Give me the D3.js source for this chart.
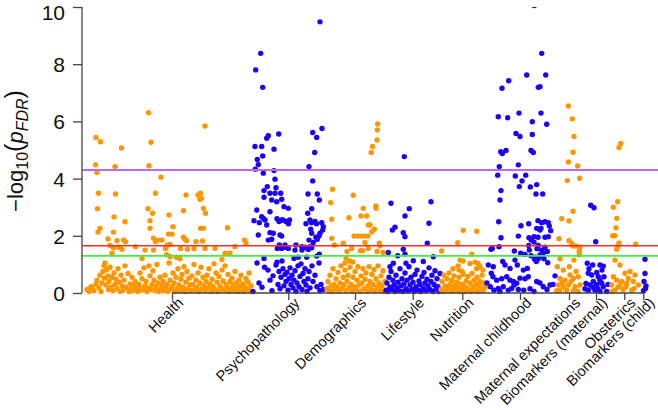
<!DOCTYPE html>
<html>
<head>
<meta charset="utf-8">
<script src="https://cdn.jsdelivr.net/npm/d3@7"></script>
<style>
  html, body { margin: 0; padding: 0; background: #fff; }
  svg { display: block; font-family: "Liberation Sans", Arial, sans-serif; }
</style>
</head>
<body>
<svg id="chart" width="658" height="410"></svg>
<script>
// ---------- DATA ----------
const categories = ["Health", "Psychopathology", "Demographics", "Lifestyle", "Nutrition",
  "Maternal childhood", "Maternal expectations", "Biomarkers (maternal)", "Obstetrics", "Biomarkers (child)"];
// tick position of each category on the variable-index axis
const categoryTicks = [90, 206.3, 273, 330.7, 380.3, 438, 487, 514, 542.3, 561.3];
const yTicks = [0, 2, 4, 6, 8, 10];
const thresholds = [4.30, 1.654, 1.301];

// [variable index, -log10(pFDR)]
const health = [
  [14,5.44],[18.5,5.29],[39.5,5.07],[66.5,6.30],[69,5.27],[123,5.84],
  [13.5,4.48],[33,4.42],[67,4.45],[15,4.21],[79,4.05],
  [16.5,3.49],[33.5,3.46],[73.5,3.49],[104,3.43],[116,3.43],[118.5,3.49],[119.5,3.31],[118,3.28],
  [15.5,2.95],[66,2.95],[101.5,2.88],[121.5,2.96],[70.5,2.79],[123.5,2.79],[87,2.73],[32,2.66],[68,2.53],[43,2.49],[91,2.32],
  [18,2.26],[68,2.26],[118.5,2.26],[121.5,2.26],[145.5,2.28],[16,2.13],[31.5,2.13],[86.5,2.06],[90,2.06],
  [26,1.89],[35,1.83],[41.5,1.85],[43.5,1.79],[28,1.66],[31.5,1.58],[36.5,1.60],[40,1.53],[53.5,1.62],[71.5,1.92],
  [73.5,1.80],[76,1.85],[80,1.85],[85,1.67],[71.5,1.50],[30,1.39],[83.5,1.56],
  [101.5,1.95],[103,1.88],[104.5,1.83],[114,1.79],[120.5,1.82],[162.5,1.85],[164,1.74],[98.5,1.56],[105.5,1.53],
  [112,1.55],[123,1.56],[133,1.56],[148,1.39],[94.5,1.25],[98,1.20],
  [88,1.70],[84.5,1.34],[88,1.27],[63,1.50],[153,1.62],[143,1.39],[60,1.21],[140,1.17],
  [5,0.12],[7,0.05],[9,0.22],[10,0.15],[12,0.08],[14,0.30],[15,0.45],[17,0.18],[18,0.62],[19,0.05],[20,0.35],
  [21,0.75],[22,0.95],[22.5,0.52],[23,1.05],[24,0.28],[25,0.82],[26,0.60],[26.5,0.12],[27,0.40],[28,0.90],[29,0.20],
  [30,0.55],[31,0.08],[32,0.70],[33,0.30],[34,0.48],[35,0.15],[36,0.85],[37,0.38],[38,0.05],[39,0.62],[40,0.25],
  [41,0.10],[42,0.45],[43,0.95],[44,0.20],[46,0.68],[47,0.05],[48,0.32],[49,0.15],[50,0.55],[51,0.08],[52,0.25],
  [53,0.40],[54,0.12],[55,0.20],[56,0.05],[57,0.30],[58,0.70],[59,0.15],
  [60,0.50],[61,0.10],[62,0.88],[63,0.25],[64,0.40],[65,0.05],[66,0.18],[67,0.95],[68,0.60],[69,0.12],[70,0.30],
  [71,0.78],[72,0.45],[73,0.08],[74,0.22],[75,1.00],[76,0.35],[77,0.05],[78,0.55],[79,0.15],[80,0.25],
  [81,0.40],[82,0.08],[83,0.62],[84,0.18],[85,0.30],[86,0.05],[87,1.05],[88,0.45],[89,0.12],[90,0.22],[91,0.70],
  [92,0.35],[93,0.05],[94,0.55],[95,0.15],[96,0.85],[97,0.28],[98,0.10],[99,0.48],[100,0.65],
  [101,0.20],[102,0.92],[103,0.05],[104,0.38],[105,0.75],[106,0.15],[107,0.52],[108,0.28],[109,0.08],[110,0.60],
  [111,0.30],[112,1.00],[113,0.12],[114,0.45],[115,0.20],[116,0.70],[117,0.05],[118,0.35],[119,0.90],[120,0.15],
  [121,0.55],[122,0.25],[123,0.08],[124,0.40],[125,0.62],[126,0.18],[127,0.85],[128,0.32],[129,0.05],[130,0.48],
  [131,0.22],[132,1.02],[133,0.12],[134,0.70],[135,0.38],[136,0.05],[137,0.58],[138,0.25],[139,0.15],[140,0.80],
  [141,0.42],[142,0.10],[143,0.95],[144,0.30],
  [145,0.20],[146,0.65],[147,0.05],[148,0.40],[149,0.15],[150,0.52],[151,0.28],[152,0.08],[153,0.75],[154,0.35],
  [155,0.18],[156,0.05],[157,0.45],[158,0.25],[159,0.62],[160,0.10],[161,0.32],[162,0.05],[163,0.20],[164,0.50],
  [165,0.12],[166,0.38],[167,0.70],[168,0.08],[169,0.25]
];
const psychopathology = [
  [238,9.48],[178.7,8.38],[173.7,7.80],[180.7,7.19],[240,5.75],[230.7,5.61],[234.7,5.44],[196.7,5.56],[186.3,5.50],
  [184.7,5.41],[173,5.12],[179.7,5.12],[192,5.03],[232.7,4.91],[180.7,4.79],[175.3,4.67],[176.3,4.49],[227,4.42],
  [173.3,4.33],[192,4.28],[181.3,4.19],[193,3.98],[230.7,3.92],[185.3,3.72],[194,3.68],[182,3.58],[188,3.49],
  [193,3.49],[198.7,3.49],[226,3.46],[235.3,3.46],[189.7,3.25],[194.7,3.19],[199.7,3.28],[237.3,3.25],[182,3.35],
  [202,3.02],[206.3,2.96],[225.7,2.79],[229.7,2.95],[174.7,2.90],[188,2.84],[179.7,2.67],[181.3,2.61],[183,2.55],
  [172,2.53],[177.3,2.46],
  [195,2.60],[197,2.50],[199.5,2.55],[201,2.55],[204,2.50],[206.5,2.42],[207.5,2.55],[224,2.42],[228,2.55],
  [229.5,2.46],[233,2.50],[234.5,2.42],[239.7,2.46],[241.3,2.32],[240.7,2.20],
  [176.3,2.03],[184.7,2.38],[188,2.11],[191.3,2.09],[198,2.03],[228.7,2.23],[229.7,2.09],[238,2.09],[237,1.99],
  [186.3,1.85],[189.7,1.88],[199.7,1.99],[227,1.85],[231.3,1.77],[234,1.95],[235.3,1.88],
  [197.3,1.68],[195.3,1.56],[199.7,1.56],[203,1.60],[206.3,1.56],[214,1.68],[219.7,1.62],[220,1.50],[223.3,1.60],
  [226.3,1.52],[229.7,1.58],[237.3,1.36],[203,1.68],[213,1.50],[228,1.62],
  [182,1.21],[212,1.21],[216.3,1.25],[224.7,1.25],[234.7,1.29],
  [171,0.05],[175,1.05],[177,0.35],[180,0.20],[182.5,0.90],[186,0.80],[188,0.45],[190,0.08],[191,0.60],[194,0.98],
  [195,1.08],[196,0.30],[197,0.75],[198,0.15],[199,0.55],[200,1.12],[201,0.85],[202,0.25],[203,0.65],[204,0.40],
  [205,0.72],[206,0.10],[207,0.50],[208,0.88],[209,0.30],[210,0.62],[211,0.18],[212,0.45],[213,0.78],[214,0.05],
  [215,0.35],[216,0.95],[217,0.22],[218,0.58],[219,1.02],[220,0.12],[221,0.68],[222,0.40],[223,0.85],[224,0.28],
  [225,0.05],[226,0.50],[227,0.75],[228,0.18],[230,0.95],[231,0.40],[233,0.62],[235,0.22],[237,1.05],[238,0.08],
  [239,0.30],[241,0.12]
];
const demographics = [
  [295.7,5.91],[295.3,5.70],[295,5.35],[290.5,5.12],[289.2,4.91],
  [250.5,3.63],[271.3,3.42],[248.7,3.16],[293.8,3.04],[294,2.96],[281.3,2.96],[279,2.69],[284.7,2.69],[267,2.63],
  [249.7,2.58],[286.3,2.38],[288,2.38],[292.3,2.23],[289.7,2.14],
  [272,1.99],[276,1.99],[279.3,1.99],[282.7,1.99],[286,1.99],[249.7,1.91],[283,1.77],[252.3,1.68],[261.3,1.74],
  [297.3,1.74],[298,1.64],[269.7,1.56],[280.7,1.48],[286.3,1.56],[265,1.45],[278.5,1.48],[295,1.45],[301,1.42],
  [264,1.22],[268,1.12],[271,1.08],[263,1.05],
  [245,0.15],[246,0.40],[247,0.08],[248,0.62],[249,0.25],[250,0.05],[251,0.85],[252,0.30],[253,0.12],[254,0.50],
  [255,0.20],[256,0.72],[257,0.05],[258,0.35],[259,0.95],[260,0.15],[261,0.55],[262,0.28],[263,0.80],[264,0.08],
  [265,0.42],[266,0.62],[267,0.18],[268,0.90],[269,0.30],[270,0.05],[271,0.55],[272,0.22],[273,0.75],[274,0.12],
  [275,0.45],[276,0.92],[277,0.28],[278,0.05],[279,0.60],[280,0.35],[281,0.85],[282,0.15],[283,0.48],[284,0.70],
  [285,0.05],[286,0.25],[287,0.92],[288,0.40],[289,0.12],[290,0.65],[291,0.30],[292,0.82],[293,0.08],[294,0.50],
  [295,0.20],[296,0.95],[297,0.35],[298,0.10],[299,0.60],[300,0.25],[301,0.78],[302,0.05],[303,0.40]
];
const lifestyle = [
  [322.3,4.77],[309,3.14],[327.3,2.95],[349,3.19],[323,2.69],[347,2.44],[313,2.30],[310.3,2.20],[321.3,2.11],
  [323,1.97],[345.3,1.74],[321.3,1.53],[306.3,1.42],[315.7,1.30],[323,1.36],[351.3,1.27],
  [311.3,1.04],[324,1.04],[331.3,1.13],[341.3,1.10],[308,0.92],
  [304,0.10],[305,0.35],[306,0.05],[307,0.55],[308,0.20],[309,0.75],[310,0.12],[311,0.45],[312,0.28],[313,0.05],
  [314,0.62],[315,0.18],[316,0.38],[317,0.08],[318,0.85],[319,0.25],[320,0.50],[321,0.05],[322,0.32],[323,0.70],
  [324,0.15],[325,0.45],[326,0.08],[327,0.92],[328,0.28],[329,0.55],[330,0.12],[331,0.38],[332,0.05],[333,0.65],
  [334,0.22],[335,0.80],[336,0.10],[337,0.42],[338,0.30],[339,0.05],[340,0.58],[341,0.18],[342,0.72],[343,0.35],
  [344,0.08],[345,0.48],[346,0.25],[347,0.88],[348,0.12],[349,0.40],[350,0.62],[351,0.05],[352,0.30],[353,0.78],
  [354,0.15],[355,0.50],[356,0.22],[357,0.05],[358,0.68]
];
const nutrition = [
  [381.3,2.19],[394.7,2.16],[375.7,1.76],[359.7,1.47],[389.7,1.36],
  [378,1.15],[381,1.12],[388,1.03],[393,1.08],[396,1.03],[398,0.92],[376,0.95],[371,0.85],[394.5,0.85],[401,0.80],
  [377,0.80],[380,0.75],
  [359,0.12],[360,0.40],[361,0.05],[362,0.62],[363,0.25],[364,0.08],[365,0.50],[366,0.18],[367,0.70],[368,0.30],
  [369,0.05],[370,0.45],[371,0.15],[372,0.60],[373,0.28],[374,0.08],[375,0.38],[376,0.20],[377,0.55],[378,0.05],
  [379,0.32],[380,0.12],[381,0.65],[382,0.25],[383,0.05],[384,0.42],[385,0.18],[386,0.58],[387,0.10],[388,0.35],
  [389,0.05],[390,0.68],[391,0.22],[392,0.45],[393,0.12],[394,0.30],[395,0.55],[396,0.05],[397,0.25],[398,0.40],
  [399,0.15],[400,0.62],[401,0.08],[402,0.35],[403,0.20]
];
const maternalChildhood = [
  [452.3,10.05],[459.7,8.38],[444.7,7.62],[463.7,7.62],[426.7,7.42],[420,7.16],[456.3,7.19],[458,7.21],[416.3,6.16],
  [425.7,6.13],[437,6.29],[459,6.29],[450.3,5.99],[464.7,5.90],[434,5.58],[438,5.47],[450.3,5.54],[418.7,4.94],
  [420.3,4.88],[424,4.98],[449,4.98],[451.3,4.91],[436.3,4.48],[417.3,4.42],[415.7,4.12],[433.3,4.09],[443.7,4.12],
  [440,3.92],[437.3,3.72],[448.3,3.71],[454.7,3.79],[419,3.58],[454,3.46],[460.7,3.46],[418,3.25],
  [416.7,2.49],[439,2.35],[446.7,2.42],[456,2.53],[459.7,2.46],[463,2.49],[466.3,2.46],[467.3,2.34],[468.7,2.18],
  [454.7,2.26],[458,2.20],[463,1.95],[466.3,1.97],[419,1.93],[436.3,1.99],[447,1.93],[449.3,1.85],[456,1.95],
  [459,2.26],[452,1.97],
  [410.3,1.56],[409,1.53],[417,1.62],[432.3,1.47],[446.7,1.66],[447.3,1.50],[456.3,1.66],[463,1.60],[465.3,1.45],
  [438.7,1.39],[443,1.35],[453,1.25],[456.3,1.20],[461.3,1.27],[462,1.20],[465.7,1.06],
  [452,1.78],[455,1.55],[459.7,1.50],[461,1.40],[458,1.33],[449,1.30],[452.7,1.18],[454.3,1.10],
  [406.3,0.98],[411.3,0.92],[420.7,1.10],[423,0.98],[428,0.86],[433,1.15],[435.3,0.98],[441.3,0.80],[445.3,0.86],
  [409.3,0.69],[411,0.57],[414.7,0.45],[419.7,0.50],[424.7,0.57],[428,0.45],[431.3,0.40],[434.7,0.34],[438,0.52],
  [443,0.50],[446.3,0.57],[454.7,0.40],[461.3,0.22],[468,0.28],[408.3,0.22],[412,0.10],[416.3,0.16],[421.3,0.22],
  [426.3,0.10],[429.7,0.16],[436.3,0.12],[441.7,0.10],[405,0.35],[418,0.05],[432,0.28],[448,0.15],[452,0.05],
  [458,0.35],[465,0.12],[471,0.30],[473,0.60]
];
const maternalExpectations = [
  [486.3,6.54],[490.3,6.09],[492,5.47],[491,4.92],[486.3,4.58],[495.7,4.44],[485.3,3.93],[497.7,4.01],[491,2.86],
  [479.7,2.60],[487,2.52],[477,1.90],[487,1.83],[489.7,1.74],[490.7,1.64],[494,1.64],[498,1.60],[497.3,1.46],
  [497.3,1.34],[492,1.15],[478,1.20],
  [475.3,0.92],[481.3,0.80],[487.3,0.92],[494,0.75],[488,0.63],[478,0.51],[483,0.45],[491.3,0.51],[496.3,0.57],
  [476.3,0.28],[481.3,0.22],[486.3,0.28],[493,0.22],[498,0.28],[478,0.10],[484.7,0.10],[491.3,0.08],[474.7,0.08],
  [496,0.05],[480,0.35],[489,0.40]
];
const biomarkersMaternal = [
  [508.7,3.07],[512,2.98],[513.7,1.79],[505.3,1.04],[510.7,0.98],[518,0.98],[521.3,0.94],
  [506.3,0.69],[514.7,0.72],[516.3,0.57],[518,0.45],[511.3,0.40],[508,0.28],[514.7,0.30],[521.3,0.22],[506.3,0.10],
  [513,0.10],[518,0.05],[524.7,0.05],[504,0.33],[509.7,0.63],[519.7,0.34],[522,0.57],[503,0.15],[511,0.20],
  [516,0.15],[526,0.30],[520,0.80],[507,0.85]
];
const obstetrics = [
  [538.7,5.23],[537,5.09],[535.7,3.19],[531.3,3.00],[534.7,2.61],[534,2.28],[530.7,2.00],[533,2.00],[537,1.74],
  [535.7,1.64],[534.7,1.53],[553.7,1.71],[533,1.15],
  [538,0.98],[548,0.75],[543,0.69],[531.3,0.57],[534.7,0.45],[539.7,0.40],[546.3,0.51],[551.3,0.40],[529.7,0.28],
  [538,0.28],[544,0.22],[549.7,0.10],[556.3,0.28],[533,0.10],[553,0.63],[544.7,0.34],[541,0.12],[536,0.20],
  [530,0.05],[552,0.15]
];
const biomarkersChild = [
  [563,1.18],[563,0.68],[562,0.40],[564,0.25],[563.5,0.16],[561.5,0.08]
];
const seriesByCategory = [health, psychopathology, demographics, lifestyle, nutrition,
  maternalChildhood, maternalExpectations, biomarkersMaternal, obstetrics, biomarkersChild];

// ---------- CHART ----------
(function () {
const svg = d3.select("#chart");
const W = 658, H = 410;
const mL = 82, mR = 658, mT = 7, mB = 293;

const x = d3.scaleLinear().domain([0, 576]).range([mL, mR]);
const y = d3.scaleLinear().domain([0, 10]).range([mB, mT]);

const colorA = "#ff9600", colorB = "#1c00ff";

svg.append("defs").append("clipPath").attr("id", "plotclip")
  .append("rect").attr("x", mL).attr("y", mT).attr("width", mR - mL).attr("height", H - mT);

const pts = svg.append("g").attr("clip-path", "url(#plotclip)");
seriesByCategory.forEach((arr, i) => {
  pts.append("g").selectAll("circle").data(arr).join("circle")
    .attr("cx", d => x(d[0]))
    .attr("cy", d => y(d[1]))
    .attr("r", 2.7)
    .attr("fill", i % 2 === 0 ? colorA : colorB);
});

// threshold lines
const lineColors = ["#b469ff", "#ff2a2a", "#3ff03f"];
const lineWidths = [2, 1.4, 1.8];
thresholds.forEach((t, i) => {
  svg.append("line")
    .attr("x1", mL).attr("x2", mR)
    .attr("y1", y(t)).attr("y2", y(t))
    .attr("stroke", lineColors[i]).attr("stroke-width", lineWidths[i]);
});

// y axis
const yAxis = d3.axisLeft(y).tickValues(yTicks).tickSize(9).tickPadding(8).tickFormat(d3.format("d"));
const gy = svg.append("g").attr("transform", `translate(${mL},0)`).call(yAxis);
gy.select(".domain").attr("stroke", "#444").attr("stroke-width", 1.3).attr("d", `M0,${y(0)}V${y(10)}`);
gy.selectAll(".tick line").attr("stroke", "#444").attr("stroke-width", 1.3);
gy.selectAll(".tick text").attr("font-size", 21).attr("fill", "#111")
  .attr("dy", "0.36em")
  .attr("font-family", '"Liberation Sans", Arial, sans-serif');
gy.selectAll(".tick").filter(d => d === 10).select("text").attr("dy", "0.58em");

// x axis
const xAxis = d3.axisBottom(x).tickValues(categoryTicks).tickSize(7).tickFormat("");
const gx = svg.append("g").attr("transform", `translate(0,${mB})`).call(xAxis);
gx.select(".domain").attr("stroke", "#444").attr("stroke-width", 1.3)
  .attr("d", `M${x(categoryTicks[0])},0H${x(categoryTicks[categoryTicks.length - 1])}`);
gx.selectAll(".tick line").attr("stroke", "#444").attr("stroke-width", 1.3);

gx.selectAll(".tick").append("text")
  .attr("class", "cat")
  .attr("transform", "translate(9,8) rotate(-45)")
  .attr("text-anchor", "end")
  .attr("dominant-baseline", "middle")
  .attr("font-size", 14.6)
  .attr("fill", "#111")
  .attr("font-family", '"Liberation Sans", Arial, sans-serif')
  .text((d, i) => categories[i]);

// y label: -log10(p_FDR)
const yl = svg.append("text")
  .attr("transform", `translate(23,151) rotate(-90)`)
  .attr("text-anchor", "middle")
  .attr("font-size", 22)
  .attr("fill", "#111")
  .attr("font-family", '"Liberation Sans", Arial, sans-serif');
yl.append("tspan").text("\u2212log");
yl.append("tspan").attr("font-size", 16).attr("dy", 5).text("10");
yl.append("tspan").attr("font-size", 25).attr("dy", -5).text("(");
yl.append("tspan").attr("font-style", "italic").text("p");
yl.append("tspan").attr("font-style", "italic").attr("font-size", 16).attr("dy", 5).text("FDR");
yl.append("tspan").attr("font-size", 25).attr("dy", -5).text(")");
})();
</script>
</body>
</html>
